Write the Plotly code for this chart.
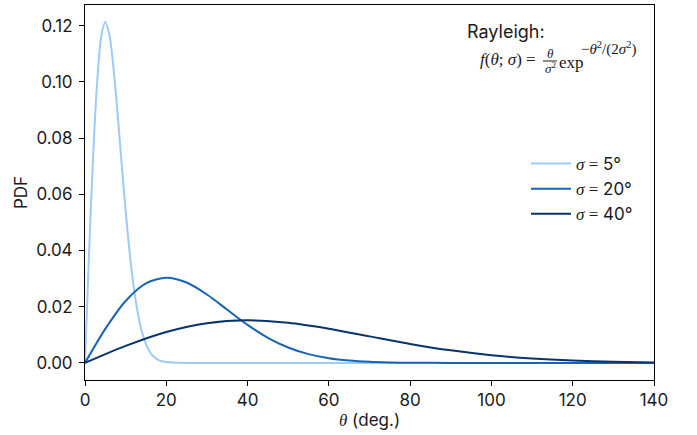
import plotly.graph_objects as go

# ---- data ----
theta_s5 = [0, 1, 2, 3, 4, 5, 6, 7, 8, 9, 10, 11, 12, 13, 14, 15, 16, 17, 18, 19, 20, 25, 140]
pdf_s5 = [0.0, 0.0392, 0.0738, 0.1002, 0.1162, 0.1213, 0.1168, 0.1051, 0.0890, 0.0712,
          0.0541, 0.0391, 0.0269, 0.0177, 0.0111, 0.0067, 0.0038, 0.0021, 0.0011, 0.0006,
          0.0003, 0.0, 0.0]

theta_s20 = [0, 5, 10, 15, 20, 25, 30, 35, 40, 45, 50, 55, 60, 65, 70, 75, 80, 90, 100, 140]
pdf_s20 = [0.0, 0.01212, 0.02206, 0.02831, 0.03033, 0.02861, 0.02435, 0.01893, 0.01353,
           0.00895, 0.00549, 0.00313, 0.00167, 0.00083, 0.00038, 0.00017, 0.00007,
           0.00001, 0.0, 0.0]

theta_s40 = [0, 10, 20, 30, 40, 50, 60, 70, 80, 90, 100, 110, 120, 130, 140]
pdf_s40 = [0.0, 0.00606, 0.01103, 0.01415, 0.01516, 0.01431, 0.01218, 0.00946, 0.00677,
           0.00448, 0.00275, 0.00157, 0.00083, 0.00041, 0.00019]

series_names = ["5°", "20°", "40°"]
x_ticks = [0, 20, 40, 60, 80, 100, 120, 140]
y_ticks = [0.00, 0.02, 0.04, 0.06, 0.08, 0.10, 0.12]

colors = ["#9ccbf8", "#1864b4", "#08336b"]
SERIF = "Liberation Serif, Times New Roman, serif"
SANS = "Inter, Roboto, sans-serif"

W, H = 697, 435
L, R, T, B = 85, 654, 5, 380


def px(x):
    return (x - L) / (R - L)


def py(y):
    return (B - y) / (B - T)


fig = go.Figure()
for xs, ys, name, c in zip([theta_s5, theta_s20, theta_s40], [pdf_s5, pdf_s20, pdf_s40],
                           series_names, colors):
    fig.add_trace(go.Scatter(
        x=xs, y=ys, mode="lines",
        line=dict(color=c, width=2, shape="spline", smoothing=0.8),
        name=f'<span style="font-family:{SERIF}"><i>σ</i> =</span> {name}',
    ))

fig.update_layout(
    width=W, height=H,
    margin=dict(l=L, r=W - R, t=T, b=H - B, autoexpand=False),
    paper_bgcolor="white", plot_bgcolor="white",
    font=dict(family=SANS, size=17, color="#1a1a1a"),
    showlegend=True,
    legend=dict(x=px(526), y=py(146), xanchor="left", yanchor="top",
                bgcolor="rgba(0,0,0,0)", font=dict(size=17), itemwidth=40,
                tracegroupgap=0),
    xaxis=dict(range=[0, 140], tickvals=x_ticks, ticktext=[str(v) for v in x_ticks],
               showline=True, linecolor="black", linewidth=1, mirror=True, automargin=False,
               ticks="outside", ticklen=5, tickcolor="black", showgrid=False, zeroline=False,
               ticklabelstandoff=0,
               title=dict(text=f'<span style="font-family:{SERIF}"><i>θ</i></span> (deg.)',
                          standoff=3, font=dict(size=17))),
    yaxis=dict(range=[-0.00607, 0.12737], tickvals=y_ticks,
               ticktext=[f"{v:.2f}" for v in y_ticks],
               showline=True, linecolor="black", linewidth=1, mirror=True, automargin=False,
               ticks="outside", ticklen=5, tickcolor="black", showgrid=False, zeroline=False,
               ticklabelstandoff=3,
               title=dict(text="PDF", standoff=4, font=dict(size=17))),
)

ann = [
    dict(text="Rayleigh:", x=px(466), y=py(32), xanchor="left", yanchor="middle",
         font=dict(family=SANS, size=18)),
    dict(text="<i>f</i>(<i>θ</i>; <i>σ</i>) =", x=px(479), y=py(59), xanchor="left",
         yanchor="middle", font=dict(family=SERIF, size=17)),
    dict(text="<i>θ</i>", x=px(550), y=py(53), xanchor="center", yanchor="middle",
         font=dict(family=SERIF, size=13)),
    dict(text="<i>σ</i><sup>2</sup>", x=px(550), y=py(68), xanchor="center", yanchor="middle",
         font=dict(family=SERIF, size=13)),
    dict(text="exp", x=px(558), y=py(62), xanchor="left", yanchor="middle",
         font=dict(family=SERIF, size=17)),
    dict(text="−<i>θ</i><sup>2</sup>/(2<i>σ</i><sup>2</sup>)", x=px(580), y=py(49),
         xanchor="left", yanchor="middle", font=dict(family=SERIF, size=15)),
]
for a in ann:
    fig.add_annotation(xref="paper", yref="paper", showarrow=False, borderpad=0, **a)

fig.add_shape(type="line", xref="paper", yref="paper", x0=px(543), x1=px(557),
              y0=py(61), y1=py(61), line=dict(color="#1a1a1a", width=1))

fig.write_html("out.html", config={"displayModeBar": False},
               post_script="document.body.style.margin='0';document.body.style.overflow='hidden';")
